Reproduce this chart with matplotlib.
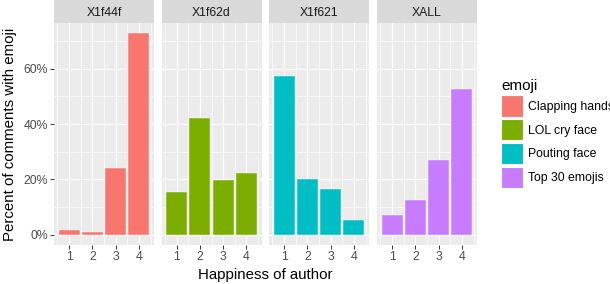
import matplotlib
matplotlib.use("Agg")
import matplotlib.pyplot as plt
from matplotlib.patches import Patch
from matplotlib.ticker import FuncFormatter, MultipleLocator

plt.rcParams["font.family"] = ["Liberation Sans", "DejaVu Sans"]

facets = ["X1f44f", "X1f62d", "X1f621", "XALL"]
emoji_names = ["Clapping hands", "LOL cry face", "Pouting face", "Top 30 emojis"]
colors = ["#F8766D", "#7CAE00", "#00BFC4", "#C77CFF"]
happiness = [1, 2, 3, 4]

# percent of comments with emoji, per happiness level
clapping = [1.9, 1.2, 24.3, 72.8]
lol_cry = [15.5, 42.3, 19.9, 22.2]
pouting = [57.4, 20.3, 16.7, 5.5]
top30 = [7.2, 12.7, 27.1, 52.6]
values = [clapping, lol_cry, pouting, top30]

W, H = 610, 284
fig = plt.figure(figsize=(W / 100, H / 100), dpi=100)

panel_left = [54, 161.5, 269, 377]
panel_w = 100
panel_top = 23
panel_bot = 245
strip_top = 0

ymax = max(max(v) for v in values)
ylim = (-0.05 * ymax, 1.05 * ymax)

for i, (name, vals, col) in enumerate(zip(facets, values, colors)):
    ax = fig.add_axes([panel_left[i] / W, 1 - panel_bot / H,
                       panel_w / W, (panel_bot - panel_top) / H])
    ax.set_facecolor("#EBEBEB")
    ax.bar(happiness, vals, width=0.9, color=col, edgecolor="#FFFFFF",
           linewidth=0.3, zorder=3)
    ax.set_xlim(0.355, 4.645)
    ax.set_ylim(*ylim)
    ax.xaxis.set_major_locator(MultipleLocator(1))
    ax.xaxis.set_minor_locator(MultipleLocator(0.5))
    ax.yaxis.set_major_locator(MultipleLocator(20))
    ax.yaxis.set_minor_locator(MultipleLocator(10))
    ax.grid(which="major", color="white", linewidth=0.9, zorder=1)
    ax.grid(which="minor", color="white", linewidth=0.45, zorder=1)
    for s in ax.spines.values():
        s.set_visible(False)
    ax.tick_params(which="minor", length=0)
    ax.tick_params(which="major", length=2.6, width=0.7, color="#333333",
                   labelsize=8.8, labelcolor="#4D4D4D", pad=1.5)
    ax.yaxis.set_major_formatter(FuncFormatter(lambda v, p: f"{v:.0f}%"))
    if i > 0:
        ax.tick_params(axis="y", length=0, labelleft=False)

    sax = fig.add_axes([panel_left[i] / W, 1 - panel_top / H,
                        panel_w / W, (panel_top - strip_top) / H])
    sax.set_facecolor("#D9D9D9")
    sax.set_xticks([])
    sax.set_yticks([])
    for s in sax.spines.values():
        s.set_visible(False)
    sax.text(0.5, 0.45, name, ha="center", va="center", fontsize=8.8,
             color="#1A1A1A", transform=sax.transAxes)

fig.text(10 / W, 1 - 134 / H, "Percent of comments with emoji", rotation=90,
         ha="center", va="center", fontsize=10.8, color="black")
fig.text(265.5 / W, 1 - 275 / H, "Happiness of author", ha="center",
         va="center", fontsize=10.8, color="black")

handles = [Patch(facecolor=c, edgecolor="white", linewidth=0.8) for c in colors]
leg = fig.legend(handles, emoji_names, title="emoji", loc="upper left",
                 bbox_to_anchor=(501 / W, 1 - 79 / H), frameon=False,
                 fontsize=8.8, title_fontsize=11, handlelength=1.78,
                 handleheight=2.3, handletextpad=0.4, labelspacing=0.2,
                 borderpad=0, borderaxespad=0, alignment="left")

fig.savefig("out.png", dpi=100)
